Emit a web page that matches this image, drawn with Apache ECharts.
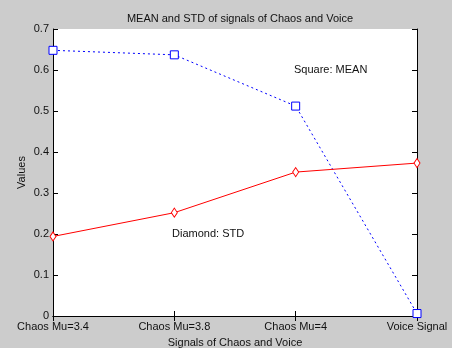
<!DOCTYPE html>
<html>
<head>
<meta charset="utf-8">
<script src="https://cdn.jsdelivr.net/npm/echarts@6/dist/echarts.min.js"></script>
<style>
  html, body { margin: 0; padding: 0; background: #cccccc; }
  #chart { width: 452px; height: 348px; }
</style>
</head>
<body>
<div id="chart"></div>
<script>
// Signals compared on the x axis
const categories = ['Chaos Mu=3.4', 'Chaos Mu=3.8', 'Chaos Mu=4', 'Voice Signal'];
// Mean of each signal
const meanValues = [0.648, 0.637, 0.512, 0.006];
// Standard deviation of each signal
const stdValues = [0.194, 0.252, 0.351, 0.373];
// Y axis ticks
const yTicks = [0, 0.1, 0.2, 0.3, 0.4, 0.5, 0.6, 0.7];

const font = 'Liberation Sans, Arial, sans-serif';
const chart = echarts.init(document.getElementById('chart'));

const boxAxisLine = { show: true, lineStyle: { color: '#000', width: 1 } };

chart.setOption({
  backgroundColor: '#cccccc',
  animation: false,
  title: {
    text: 'MEAN and STD of signals of Chaos and Voice',
    left: 235, top: 8, textAlign: 'center',
    textStyle: { fontFamily: font, fontSize: 11, fontWeight: 'normal', color: '#111' }
  },
  grid: {
    left: 53, right: 35, top: 29, bottom: 32,
    outerBoundsMode: 'none', containLabel: false,
    show: true, backgroundColor: '#ffffff', borderWidth: 0
  },
  xAxis: [{
    type: 'category', data: categories, boundaryGap: false,
    axisLine: boxAxisLine,
    axisTick: { show: true, inside: true, length: 5, lineStyle: { color: '#000' } },
    axisLabel: { fontFamily: font, fontSize: 11, color: '#111', margin: 5 },
    name: 'Signals of Chaos and Voice', nameLocation: 'middle', nameGap: 21,
    nameMoveOverlap: false,
    nameTextStyle: { fontFamily: font, fontSize: 11, color: '#111' },
    splitLine: { show: false }
  }, {
    type: 'category', data: categories, boundaryGap: false, position: 'top',
    axisLine: boxAxisLine,
    axisTick: { show: true, inside: true, length: 5, lineStyle: { color: '#000' } },
    axisLabel: { show: false }, splitLine: { show: false }
  }],
  yAxis: [{
    type: 'value', min: yTicks[0], max: yTicks[yTicks.length - 1], interval: 0.1,
    axisLine: boxAxisLine,
    axisTick: { show: true, inside: true, length: 5, lineStyle: { color: '#000' } },
    axisLabel: { fontFamily: font, fontSize: 11, color: '#111', margin: 4,
      formatter: v => (Math.round(v * 10) / 10).toString() },
    name: 'Values', nameLocation: 'middle', nameGap: 26, nameRotate: 90,
    nameMoveOverlap: false,
    nameTextStyle: { fontFamily: font, fontSize: 11, color: '#111' },
    splitLine: { show: false }
  }, {
    type: 'value', min: yTicks[0], max: yTicks[yTicks.length - 1], interval: 0.1, position: 'right',
    axisLine: boxAxisLine,
    axisTick: { show: true, inside: true, length: 5, lineStyle: { color: '#000' } },
    axisLabel: { show: false }, splitLine: { show: false }
  }],
  series: [{
    name: 'MEAN', type: 'line', data: meanValues,
    symbol: 'rect', symbolSize: 8, showAllSymbol: true,
    lineStyle: { color: '#0000ff', width: 1, type: [2, 3] },
    itemStyle: { color: '#ffffff', borderColor: '#0000ff', borderWidth: 1 }
  }, {
    name: 'STD', type: 'line', data: stdValues,
    symbol: 'diamond', symbolSize: [6, 9], showAllSymbol: true,
    lineStyle: { color: '#ff0000', width: 1 },
    itemStyle: { color: '#ffffff', borderColor: '#ff0000', borderWidth: 1 }
  }],
  graphic: [{
    type: 'text', left: 294, top: 64,
    style: { text: 'Square: MEAN', font: '11px ' + font, fill: '#111' }
  }, {
    type: 'text', left: 172, top: 228,
    style: { text: 'Diamond: STD', font: '11px ' + font, fill: '#111' }
  }]
});
</script>
</body>
</html>
